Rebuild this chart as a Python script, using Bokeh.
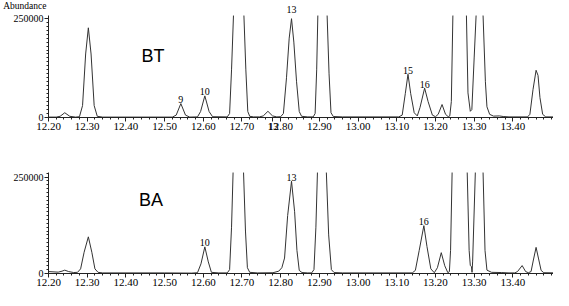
from bokeh.plotting import figure
from bokeh.models import Range1d, FixedTicker, Label, PrintfTickFormatter
from bokeh.layouts import column
from bokeh.embed import file_html
from bokeh.resources import INLINE

# ---------------- data ----------------
x_tick_labels = ["12.20", "12.30", "12.40", "12.50", "12.60", "12.70", "12.80",
                 "12.90", "13.00", "13.10", "13.20", "13.30", "13.40"]
y_tick_labels = ["0", "250000"]
y_title = "Abundance"

# stray peak number printed over the 12.80 tick label of the upper trace
stray_text = "13"
stray_time = 12.78

# BT trace: retention time (min) and abundance
bt_time = [12.200, 12.220, 12.230, 12.242, 12.255, 12.270, 12.280, 12.288, 12.296, 12.303,
           12.310, 12.318, 12.326, 12.340, 12.520, 12.530, 12.542, 12.554, 12.565, 12.585,
           12.593, 12.604, 12.615, 12.624, 12.662, 12.668, 12.673, 12.678, 12.681, 12.691,
           12.701, 12.705, 12.710, 12.715, 12.720, 12.730, 12.745, 12.755, 12.767, 12.779,
           12.790, 12.800, 12.807, 12.815, 12.822, 12.828, 12.834, 12.841, 12.848, 12.854,
           12.870, 12.884, 12.889, 12.893, 12.896, 12.899, 12.908, 12.917, 12.920, 12.925,
           12.930, 12.936, 12.960, 13.105, 13.114, 13.122, 13.129, 13.136, 13.145, 13.153,
           13.160, 13.172, 13.181, 13.192, 13.200, 13.207, 13.217, 13.226, 13.233, 13.237,
           13.241, 13.245, 13.249, 13.262, 13.276, 13.280, 13.284, 13.290, 13.294, 13.300,
           13.305, 13.309, 13.314, 13.319, 13.323, 13.329, 13.333, 13.340, 13.350, 13.365,
           13.375, 13.390, 13.438, 13.444, 13.452, 13.460, 13.465, 13.470, 13.477, 13.485,
           13.530]
bt_abund = [1000, 1000, 3000, 12000, 3000, 1000, 2000, 30000, 160000, 226000,
            160000, 30000, 3000, 1000, 1000, 6000, 35000, 6000, 1000, 1500,
            15000, 54500, 15000, 2000, 1500, 10000, 120000, 257000, 600000, 1500000,
            600000, 257000, 120000, 15000, 3000, 1500, 1500, 4000, 15600, 4000,
            1500, 2000, 10000, 100000, 200000, 249000, 190000, 90000, 15000, 3000,
            1500, 1500, 10000, 120000, 257000, 700000, 1500000, 700000, 257000, 110000,
            12000, 2500, 1500, 1500, 6000, 60000, 109000, 60000, 12000, 4000,
            25000, 74000, 40000, 6000, 2000, 8000, 32700, 8000, 2000, 4000,
            40000, 257000, 700000, 1500000, 700000, 257000, 62000, 15600, 20000, 150000,
            257000, 600000, 1000000, 600000, 257000, 90000, 27000, 8000, 3500, 4000,
            2500, 1500, 1500, 8000, 70000, 119000, 106000, 50000, 8000, 1500,
            1500]

# BA trace
ba_time = [12.200, 12.225, 12.235, 12.242, 12.252, 12.265, 12.275, 12.283, 12.292, 12.303,
           12.312, 12.320, 12.328, 12.340, 12.500, 12.570, 12.585, 12.594, 12.604, 12.613,
           12.621, 12.640, 12.662, 12.668, 12.673, 12.677, 12.680, 12.690, 12.700, 12.704,
           12.709, 12.714, 12.720, 12.740, 12.780, 12.795, 12.803, 12.810, 12.818, 12.828,
           12.836, 12.842, 12.848, 12.855, 12.870, 12.880, 12.886, 12.891, 12.895, 12.898,
           12.906, 12.914, 12.918, 12.924, 12.931, 12.938, 12.960, 13.140, 13.148, 13.158,
           13.170, 13.178, 13.188, 13.197, 13.205, 13.215, 13.224, 13.232, 13.236, 13.239,
           13.243, 13.247, 13.262, 13.278, 13.282, 13.287, 13.290, 13.293, 13.2945, 13.296,
           13.303, 13.307, 13.313, 13.319, 13.323, 13.328, 13.333, 13.345, 13.370, 13.390,
           13.405, 13.412, 13.424, 13.433, 13.440, 13.447, 13.453, 13.460, 13.466, 13.473,
           13.480, 13.530]
ba_abund = [5000, 3500, 6000, 8700, 5000, 2500, 3000, 12000, 55000, 95000,
            55000, 12000, 3000, 1500, 1500, 1000, 2000, 25000, 69000, 30000,
            3000, 1500, 1500, 10000, 120000, 262000, 600000, 1500000, 600000, 262000,
            110000, 15000, 3000, 1500, 2000, 6000, 15000, 40000, 150000, 239000,
            160000, 60000, 8000, 2500, 1500, 1500, 10000, 120000, 262000, 700000,
            1500000, 700000, 262000, 100000, 10000, 2500, 1500, 1500, 8000, 60000,
            124000, 70000, 12000, 2000, 15000, 54000, 20000, 2000, 5000, 60000,
            262000, 700000, 1500000, 700000, 262000, 60000, 20500, 18000, 3000, 30000,
            262000, 600000, 1000000, 600000, 262000, 60000, 8700, 3000, 2500, 1500,
            1500, 5000, 20500, 5000, 2000, 5000, 35000, 67700, 40000, 8000,
            2000, 1500]

# peak labels: text, retention time, apex abundance
bt_peak_text = ["9", "10", "13", "15", "16"]
bt_peak_time = [12.542, 12.604, 12.828, 13.129, 13.172]
bt_peak_abund = [35000, 54500, 249000, 109000, 74000]

ba_peak_text = ["10", "13", "16"]
ba_peak_time = [12.604, 12.828, 13.170]
ba_peak_abund = [69000, 239000, 124000]

# sample names and where they are written
sample_names = ["BT", "BA"]
sample_time = [12.470, 12.465]
sample_abund = [156000, 191000]

# ---------------- styling / layout ----------------
SERIF = "'Liberation Serif', 'Times New Roman', 'DejaVu Serif', serif"
SANS = "'Liberation Sans', Arial, sans-serif"
LINE = "#333333"
W = 553
LEFT = 47
X_START, X_END = 12.20, 13.505

x_ticks = [float(s) for s in x_tick_labels]
x_minor = [round(12.20 + 0.02 * i, 2) for i in range(66)]
y_ticks = [float(s) for s in y_tick_labels]
y_minor = [10000 * i for i in range(27)]


def make_panel(times, abund, ymax, height, b_top, b_bottom, extra_tick=None):
    p = figure(width=W, height=height, output_backend="svg", toolbar_location=None,
               x_range=Range1d(X_START, X_END), y_range=Range1d(0, ymax),
               min_border_left=LEFT, min_border_right=0,
               min_border_top=b_top, min_border_bottom=b_bottom)
    p.outline_line_color = None
    p.xgrid.visible = False
    p.ygrid.visible = False
    p.background_fill_color = "white"
    p.border_fill_color = "white"
    p.line(times, abund, line_color=LINE, line_width=1)

    ticks = list(x_ticks)
    overrides = {t: s for t, s in zip(x_ticks, x_tick_labels)}
    if extra_tick is not None:
        ticks.append(extra_tick[0])
        overrides[extra_tick[0]] = extra_tick[1]
    xa = p.xaxis[0]
    xa.ticker = FixedTicker(ticks=ticks, minor_ticks=x_minor)
    xa.formatter = PrintfTickFormatter(format="%.2f")
    xa.major_label_overrides = overrides
    ya = p.yaxis[0]
    ya.ticker = FixedTicker(ticks=y_ticks, minor_ticks=y_minor)
    ya.formatter = PrintfTickFormatter(format="%d")
    ya.major_label_overrides = {t: s for t, s in zip(y_ticks, y_tick_labels)}
    for ax, fs in ((xa, "11px"), (ya, "10px")):
        ax.axis_line_color = "#222222"
        ax.axis_line_width = 1
        ax.major_tick_line_color = "#222222"
        ax.minor_tick_line_color = "#222222"
        ax.major_tick_in = 0
        ax.major_tick_out = 4
        ax.minor_tick_in = 0
        ax.minor_tick_out = 2
        ax.major_label_text_font = SERIF
        ax.major_label_text_font_size = fs
        ax.major_label_text_color = "black"
        ax.major_label_standoff = 1
    return p


def peak_label(x, y, s, y_offset, baseline="alphabetic"):
    return Label(x=x, y=y, y_offset=y_offset, text=s, text_font=SERIF,
                 text_font_size="10px", text_color="black",
                 text_align="center", text_baseline=baseline)


# header strip above the upper panel: "Abundance" written as the label of a
# left-axis tick, plus peak numbers that sit above the upper frame
HEADER_H = 14
header = figure(width=W, height=HEADER_H, output_backend="svg", toolbar_location=None,
                x_range=Range1d(X_START, X_END), y_range=Range1d(0, 1),
                x_axis_type=None,
                min_border=0, min_border_left=LEFT, min_border_right=0,
                min_border_top=0, min_border_bottom=0)
header.grid.visible = False
header.outline_line_color = None
header.background_fill_color = "white"
header.border_fill_color = "white"
TITLE_Y = 1 - 5 / HEADER_H
hy = header.yaxis[0]
hy.ticker = FixedTicker(ticks=[TITLE_Y], minor_ticks=[])
hy.major_label_overrides = {TITLE_Y: y_title}
hy.axis_line_color = None
hy.major_tick_line_color = None
hy.minor_tick_line_color = None
hy.major_tick_out = 0
hy.major_tick_in = 0
hy.major_label_standoff = 2
hy.major_label_text_font = SERIF
hy.major_label_text_font_size = "9.5px"
hy.major_label_text_color = "black"

TOP_MAX = 257000
BOT_MAX = 261700
p1 = make_panel(bt_time, bt_abund, TOP_MAX, 120, 1, 17, extra_tick=(stray_time, stray_text))
p2 = make_panel(ba_time, ba_abund, BOT_MAX, 156, 38, 17)

PEAK_Y = 1 - 9 / HEADER_H
for s, t, a in zip(bt_peak_text, bt_peak_time, bt_peak_abund):
    if a > 0.9 * TOP_MAX:
        # label sits above the frame: write it in the header strip
        header.add_layout(peak_label(t, PEAK_Y, s, 0, "middle"))
    else:
        p1.add_layout(peak_label(t, a, s, 4))

for s, t, a in zip(ba_peak_text, ba_peak_time, ba_peak_abund):
    p2.add_layout(peak_label(t, a, s, 4))

for p, s, t, a in zip((p1, p2), sample_names, sample_time, sample_abund):
    p.add_layout(Label(x=t, y=a, text=s, text_font=SANS, text_font_size="18px",
                       text_color="black", text_align="center", text_baseline="middle"))

layout = column(header, p1, p2, spacing=0)
open("out.html", "w").write(file_html(layout, INLINE))
